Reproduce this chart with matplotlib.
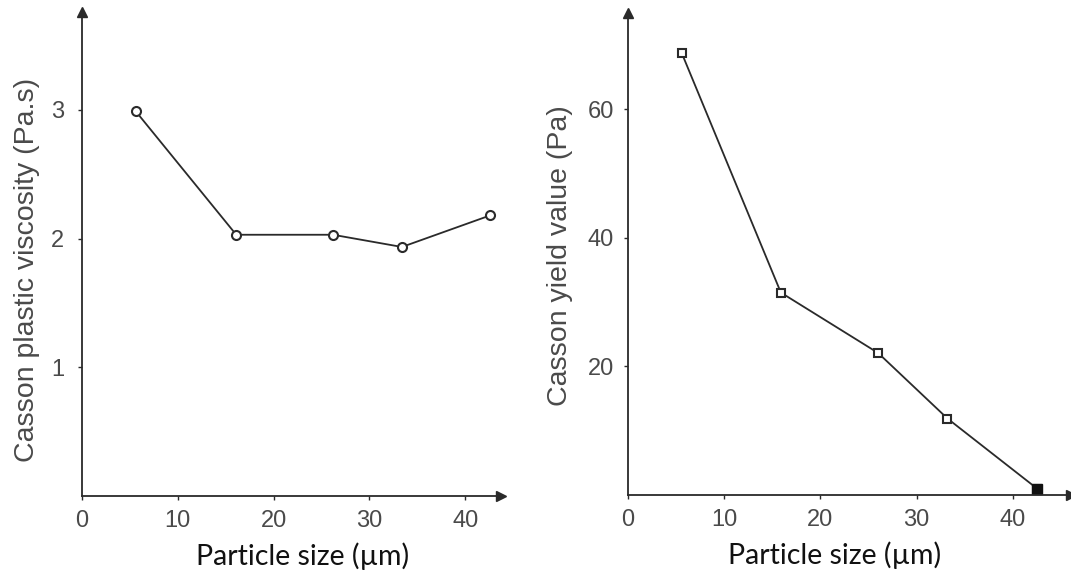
import matplotlib.pyplot as plt

# Particle size (um) and Casson parameters
size_visc = [5.6, 16.1, 26.2, 33.4, 42.6]
viscosity = [2.99, 2.03, 2.03, 1.935, 2.18]

size_yield = [5.6, 15.9, 26.0, 33.2, 42.5]
yield_value = [68.8, 31.5, 22.1, 11.9, 1.0]

x_ticks = [0, 10, 20, 30, 40]
visc_ticks = [1, 2, 3]
yield_ticks = [20, 40, 60]

grey = '#4a4a4a'
line_col = '#2a2a2a'
tick_font = 'Liberation Sans'
label_font = 'Lato'

fig = plt.figure(figsize=(10.71, 5.74), dpi=100)
ax1 = fig.add_axes([0.0766, 0.1359, 0.3908, 0.843])
ax2 = fig.add_axes([0.5861, 0.1376, 0.4137, 0.8397])


def style_axis(ax, xmax, ymax, yticks, ypad):
    ax.set_xlim(0, xmax)
    ax.set_ylim(0, ymax)
    ax.spines['top'].set_visible(False)
    ax.spines['right'].set_visible(False)
    for s in ['left', 'bottom']:
        ax.spines[s].set_color(line_col)
        ax.spines[s].set_linewidth(1.3)
    ax.set_xticks(x_ticks)
    ax.set_yticks(yticks)
    ax.tick_params(axis='both', length=3, width=1, color=line_col,
                   labelcolor=grey, labelsize=17)
    ax.tick_params(axis='x', pad=7)
    ax.tick_params(axis='y', pad=ypad)
    for lab in ax.get_xticklabels() + ax.get_yticklabels():
        lab.set_fontfamily(tick_font)
    # arrow heads at the axis ends
    ax.plot(1, 0, '>', color=line_col, ms=7, transform=ax.transAxes, clip_on=False)
    ax.plot(0, 1, '^', color=line_col, ms=7, transform=ax.transAxes, clip_on=False)


style_axis(ax1, 43.7, 3.76, visc_ticks, 10)
style_axis(ax2, 46, 75, yield_ticks, 7)

ax1.plot(size_visc, viscosity, color=line_col, lw=1.3, marker='o', ms=6.5,
         mfc='white', mec=line_col, mew=1.5)

ax2.plot(size_yield, yield_value, color=line_col, lw=1.3, marker='s', ms=6,
         mfc='white', mec=line_col, mew=1.5)
ax2.plot(size_yield[-1], yield_value[-1], marker='s', ms=7, color='#111111')

ax1.set_ylabel('Casson plastic viscosity (Pa.s)', fontsize=20.5, color=grey,
               fontfamily=tick_font)
ax1.yaxis.set_label_coords(-0.100, 0.467)
ax2.set_ylabel('Casson yield value (Pa)', fontsize=20.5, color=grey,
               fontfamily=tick_font)
ax2.yaxis.set_label_coords(-0.123, 0.496)

ax1.set_xlabel('Particle size (µm)', fontsize=20.5, color='#111111', fontfamily=label_font)
ax1.xaxis.set_label_coords(0.526, -0.096)
ax2.set_xlabel('Particle size (µm)', fontsize=20.5, color='#111111', fontfamily=label_font)
ax2.xaxis.set_label_coords(0.467, -0.096)

fig.savefig('out.png', dpi=100)
